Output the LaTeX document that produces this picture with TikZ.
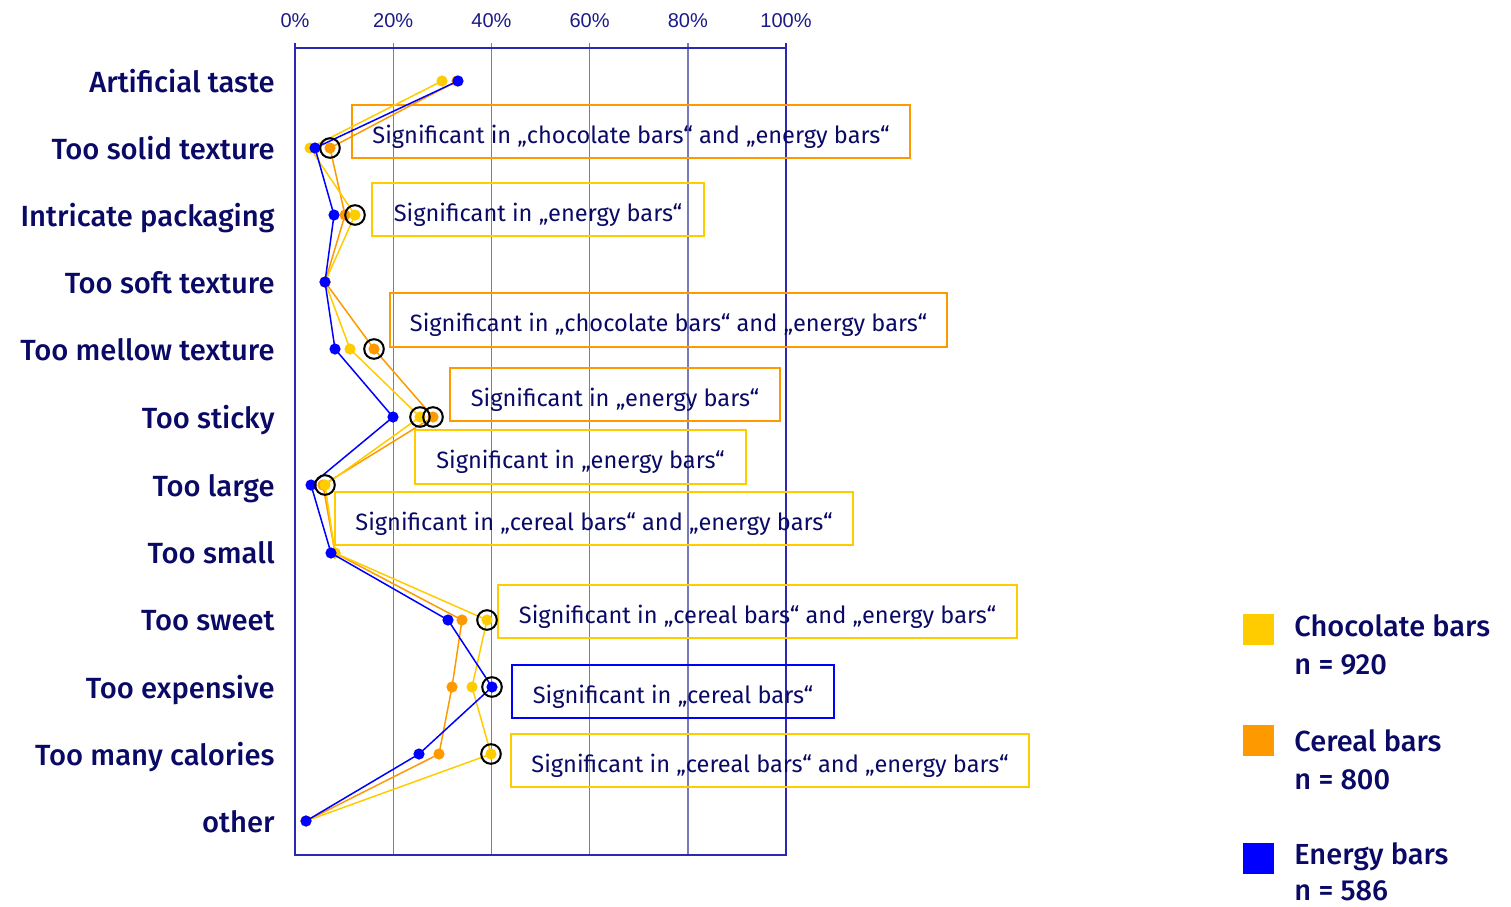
\documentclass[tikz,border=0pt]{standalone}
\usepackage{fontspec}
\setmainfont{Fira Sans}
\newfontfamily\catfont{Fira Sans Medium}
\newfontfamily\axisfont{Liberation Sans}

\definecolor{navy}{HTML}{0A0A66}
\definecolor{choc}{HTML}{FFCC00}
\definecolor{cereal}{HTML}{FF9900}
\definecolor{energy}{HTML}{0000FF}
\definecolor{gridblue}{HTML}{7878BC}
\definecolor{frameblue}{HTML}{2A2AB0}
\definecolor{axistext}{HTML}{1A1A88}

\tikzset{
  catlabel/.style={anchor=base east, inner sep=0pt, text=navy, font=\catfont\fontsize{14.6}{17}\selectfont},
  axislabel/.style={anchor=base, inner sep=0pt, text=axistext, font=\axisfont\fontsize{10}{12}\selectfont},
  legendtext/.style={anchor=base west, inner sep=0pt, text=navy, font=\catfont\fontsize{14.5}{17}\selectfont},
  legendkey/.style={fill=#1, draw=none},
  grid/.style={draw=gridblue, line width=0.7pt},
  frame/.style={draw=frameblue, line width=0.8pt},
  series/.style={draw=#1, line width=0.75pt, line join=round},
  dot/.style={circle, fill=#1, draw=none, inner sep=0pt, minimum size=5.6pt},
  hit/.style={circle, draw=black, line width=1pt, inner sep=0pt, minimum size=9.8pt},
  sigbox/.style n args={3}{draw=#1, line width=1pt, inner sep=0pt, text=navy,
    minimum width=#2*0.5pt, minimum height=#3*0.5pt,
    text height=11.5pt, text depth=0pt,
    font=\fontsize{11.8}{14}\selectfont},
}

\begin{document}
\begin{tikzpicture}[x=0.5pt, y=-0.5pt]
\useasboundingbox (0,0) rectangle (1511,906);

% ---- axis frame and grid ----
\foreach \p/\lab in {0/0\%, 20/20\%, 40/40\%, 60/60\%, 80/80\%, 100/100\%}{
  \node[axislabel] (ax\p) at ({295+4.91*\p},27) {\lab};
}
\foreach \p in {20,40,60,80}{
  \draw[grid] ({295+4.91*\p},43) -- ({295+4.91*\p},855);
}
\draw[frame] (295,43) -- (295,855) -- (786,855) -- (786,43);
\draw[frame] (295,48) -- (786,48);

% ---- category labels ----
\foreach \r/\txt [count=\i] in {
  81/Artificial taste, 148/Too solid texture, 215/Intricate packaging,
  282/Too soft texture, 349/Too mellow texture, 417/Too sticky,
  485/Too large, 552/Too small, 619/Too sweet, 687/Too expensive,
  754/Too many calories, 821/other}{
  \node[catlabel] (cat\i) at (275,\r+11) {\txt};
}

% ---- data coordinates (x in px, one row per category) ----
\foreach \n/\x/\y in {1/457/81, 2/330/148, 3/345/215, 4/325/282, 5/374/349, 6/433/417,
  7/323/485, 8/335/553, 9/462/620, 10/452/687, 11/439/754, 12/306/821}{
  \coordinate (o\n) at (\x,\y);
}
\foreach \n/\x/\y in {1/442/81, 2/310/148, 3/355/215, 4/325/282, 5/350/349, 6/420/417,
  7/325/485, 8/335/553, 9/487/620, 10/472/687, 11/491/754, 12/306/821}{
  \coordinate (y\n) at (\x,\y);
}
\foreach \n/\x/\y in {1/458/81, 2/315/148, 3/334/215, 4/325/282, 5/335/349, 6/393/417,
  7/311/485, 8/331/553, 9/448/620, 10/492/687, 11/419/754, 12/306/821}{
  \coordinate (b\n) at (\x,\y);
}

% ---- significance notes ----
\node[sigbox={cereal}{558}{53}] (s1) at (631,131.5)   {Significant in „chocolate bars“ and „energy bars“};
\node[sigbox={choc}{332}{53}]   (s2) at (538,209.5)   {Significant in „energy bars“};
\node[sigbox={cereal}{557}{54}] (s3) at (668.5,320)   {Significant in „chocolate bars“ and „energy bars“};
\node[sigbox={cereal}{330}{53}] (s4) at (615,394.5)   {Significant in „energy bars“};
\node[sigbox={choc}{331}{54}]   (s5) at (580.5,457)   {Significant in „energy bars“};
\node[sigbox={choc}{518}{53}]   (s6) at (594,518.5)   {Significant in „cereal bars“ and „energy bars“};
\node[sigbox={choc}{519}{53}]   (s7) at (757.5,611.5) {Significant in „cereal bars“ and „energy bars“};
\node[sigbox={energy}{322}{53}] (s8) at (673,691.5)   {Significant in „cereal bars“};
\node[sigbox={choc}{518}{53}]   (s9) at (770,760.5)   {Significant in „cereal bars“ and „energy bars“};

% ---- series: cereal, chocolate, energy ----
\draw[series=cereal] (o1) \foreach \n in {2,...,12}{ -- (o\n) };
\foreach \n in {1,...,12}{ \node[dot=cereal] (od\n) at (o\n) {}; }
\draw[series=choc] (y1) \foreach \n in {2,...,12}{ -- (y\n) };
\foreach \n in {1,...,12}{ \node[dot=choc] (yd\n) at (y\n) {}; }
\draw[series=energy] (b1) \foreach \n in {2,...,12}{ -- (b\n) };
\foreach \n in {1,...,12}{ \node[dot=energy] (bd\n) at (b\n) {}; }

% ---- significant values ----
\foreach \c in {o2, y3, o5, y6, o6, y7, y9, b10, y11}{
  \node[hit] (h\c) at (\c) {};
}

% ---- legend ----
\fill[legendkey=choc]   (1243,614) rectangle (1274,645);
\fill[legendkey=cereal] (1243,725) rectangle (1274,756);
\fill[legendkey=energy] (1243,843) rectangle (1274,874);
\node[legendtext] (l1a) at (1294,636) {Chocolate bars};
\node[legendtext] (l1b) at (1294,674) {n = 920};
\node[legendtext] (l2a) at (1294,751) {Cereal bars};
\node[legendtext] (l2b) at (1294,789) {n = 800};
\node[legendtext] (l3a) at (1294,864) {Energy bars};
\node[legendtext] (l3b) at (1294,900) {n = 586};
\end{tikzpicture}
\end{document}
